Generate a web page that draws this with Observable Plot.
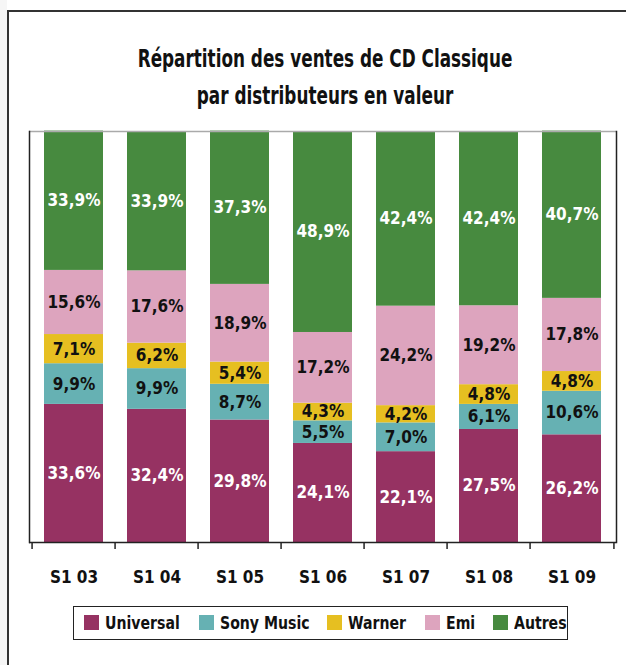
<!DOCTYPE html>
<html>
<head>
<meta charset="utf-8">
<script src="https://cdn.jsdelivr.net/npm/d3@7"></script>
<script src="https://cdn.jsdelivr.net/npm/@observablehq/plot@0.6"></script>
<style>
  html, body { margin: 0; padding: 0; background: #fff; }
  body { width: 626px; height: 665px; overflow: hidden; position: relative;
         font-family: "DejaVu Sans Condensed", "DejaVu Sans", sans-serif; }
  #outer { position: absolute; left: 7px; top: 10px; width: 700px; height: 700px;
           border-left: 2px solid #333; border-top: 2px solid #333; box-sizing: border-box; }
  #shade { position: absolute; left: 0; top: 0; width: 7px; height: 665px; background: #f6f6f6; }
  #title { position: absolute; left: 0; width: 650px; top: 41px; text-align: center;
           font-weight: bold; font-size: 24px; line-height: 37px; color: #111;
           transform: scaleX(0.78); transform-origin: 325px 0; }
  #chart { position: absolute; left: 0; top: 0; }
  #legend { position: absolute; left: 73px; top: 606px; width: 495px; height: 34px;
            border: 1.5px solid #222; box-sizing: border-box;
            font-weight: bold; font-size: 18px; color: #111; white-space: nowrap; }
  .item { position: absolute; top: 0; height: 31px; display: flex; align-items: center; }
  .sw { width: 15px; height: 15px; margin-right: 6px; flex: none; }
  .lab { display: inline-block; transform: scaleX(0.87); transform-origin: 0 50%; }
</style>
</head>
<body>
<div id="shade"></div>
<div id="outer"></div>
<div id="title">Répartition des ventes de CD Classique<br>par distributeurs en valeur</div>
<div id="chart"></div>
<div id="legend"></div>
<script>
const categories = ["S1 03", "S1 04", "S1 05", "S1 06", "S1 07", "S1 08", "S1 09"];
const series = ["Universal", "Sony Music", "Warner", "Emi", "Autres"];
const colors = ["#963262", "#66b1b3", "#e6bf21", "#dda4be", "#478a3f"];
const universal = [33.6, 32.4, 29.8, 24.1, 22.1, 27.5, 26.2];
const sony      = [9.9, 9.9, 8.7, 5.5, 7.0, 6.1, 10.6];
const warner    = [7.1, 6.2, 5.4, 4.3, 4.2, 4.8, 4.8];
const emi       = [15.6, 17.6, 18.9, 17.2, 24.2, 19.2, 17.8];
const autres    = [33.9, 33.9, 37.3, 48.9, 42.4, 42.4, 40.7];
const whiteLabel = ["Universal", "Autres"];
const legendOffsets = [10, 125, 253, 351, 419];

const valuesBySeries = [universal, sony, warner, emi, autres];
const table = [];
categories.forEach((cat, i) => {
  series.forEach((s, j) => table.push({cat, series: s, value: valuesBySeries[j][i]}));
});
const fmt = v => v.toFixed(1).replace(".", ",") + "%";

const W = 626, H = 600, mL = 29, mR = 10, mT = 131, mB = 58;
const step = (W - mL - mR) / categories.length;
const font = '"DejaVu Sans Condensed", "DejaVu Sans", sans-serif';

const labelMark = (white) => Plot.text(table, Plot.filter(
  d => whiteLabel.includes(d.series) === white,
  Plot.stackY({
    x: "cat", y: "value", z: "series", order: series,
    text: d => fmt(d.value),
    fill: white ? "white" : "#111",
    fontSize: 17, fontWeight: "bold"
  })
));

const plot = Plot.plot({
  width: W, height: H,
  marginLeft: mL, marginRight: mR, marginTop: mT, marginBottom: mB,
  style: {fontFamily: font, background: "transparent", overflow: "visible"},
  x: {domain: categories, paddingInner: 0.285, paddingOuter: 0.1425, label: null},
  y: {domain: [0, 100], axis: null},
  color: {domain: series, range: colors},
  marks: [
    Plot.barY(table, {x: "cat", y: "value", fill: "series", order: series}),
    labelMark(true),
    labelMark(false),
    Plot.ruleY([100], {stroke: "#aaa", strokeWidth: 1.5}),
    Plot.frame({stroke: "#222", strokeWidth: 1.5, anchor: "left"}),
    Plot.frame({stroke: "#222", strokeWidth: 1.5, anchor: "right"}),
    Plot.ruleY([0], {stroke: "#222", strokeWidth: 1.5}),
    Plot.axisX({tickSize: 7, text: null, dx: -step / 2, stroke: "#222", strokeWidth: 1.5}),
    Plot.axisX({ticks: [categories[categories.length - 1]], tickSize: 7, text: null, dx: step / 2, stroke: "#222", strokeWidth: 1.5}),
    Plot.axisX({tickSize: 0, tickPadding: 28, fontSize: 17, fontWeight: "bold", fill: "#111"})
  ]
});
document.getElementById("chart").appendChild(plot);

const legend = document.getElementById("legend");
series.forEach((s, i) => {
  const item = document.createElement("div");
  item.className = "item";
  item.style.left = legendOffsets[i] + "px";
  const sw = document.createElement("div");
  sw.className = "sw";
  sw.style.background = colors[i];
  const t = document.createElement("span");
  t.className = "lab";
  t.textContent = s;
  item.appendChild(sw);
  item.appendChild(t);
  legend.appendChild(item);
});
</script>
</body>
</html>
